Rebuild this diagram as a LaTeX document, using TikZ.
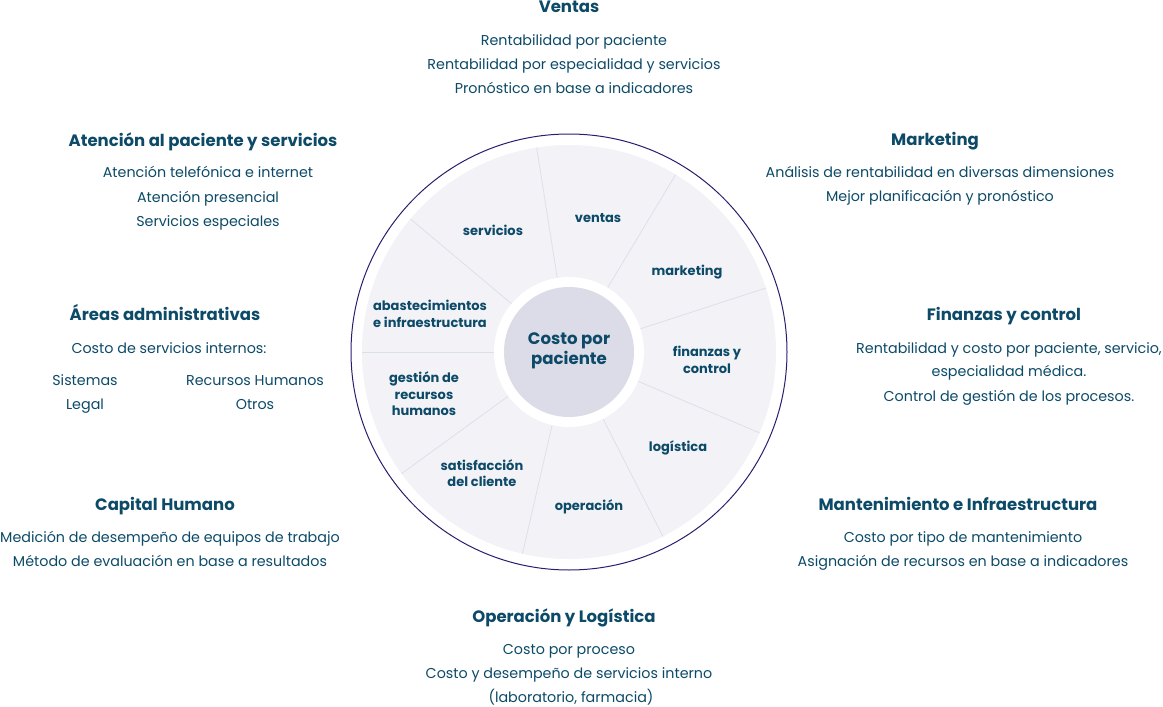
\documentclass[tikz,border=0pt]{standalone}
\usepackage{fontspec}
\setmainfont{Poppins}
\definecolor{inktext}{RGB}{12,74,104}
\definecolor{wheelfill}{RGB}{242,242,247}
\definecolor{hubfill}{RGB}{220,219,232}
\definecolor{rimline}{RGB}{40,30,110}
\definecolor{spokeline}{RGB}{218,224,232}
\tikzset{
  title/.style={inktext,font=\fontsize{16.5}{18}\selectfont\bfseries,text height=12pt,text depth=4pt},
  body/.style={inktext,font=\fontsize{14.3}{16}\selectfont,text height=10.5pt,text depth=3.5pt},
  sector/.style={inktext,font=\fontsize{13}{16.5}\selectfont\bfseries,align=center},
  hub/.style={inktext,font=\fontsize{16.6}{20}\selectfont\bfseries,align=center},
  spoke/.style={spokeline,line width=0.7pt},
}
\begin{document}
\begin{tikzpicture}[x=1pt,y=-1pt]
\useasboundingbox (0,0) rectangle (1163,707);
\coordinate (c) at (569,352);
\draw[rimline,line width=1pt] (c) circle (218pt);
\fill[wheelfill] (c) circle (207pt);
\foreach \a in {99,59,18,-23,-63,-103,-144,180,140}
  \draw[spoke,shift={(c)}] (\a:75pt) -- (\a:207pt);
\fill[white] (c) circle (75pt);
\fill[hubfill] (c) circle (65pt);
\node[hub] (costo) at (569,351) {Costo por\\paciente};
\node[sector] (servicios) at (493,230) {servicios};
\node[sector] (ventas) at (598,218) {ventas};
\node[sector] (marketing) at (687,272) {marketing};
\node[sector] (finanzas) at (707,360) {finanzas y\\control};
\node[sector] (logistica) at (678,448) {logística};
\node[sector] (operacion) at (589,507) {operación};
\node[sector] (satisfaccion) at (482,473) {satisfacción\\del cliente};
\node[sector] (gestion) at (424,394) {gestión de\\recursos\\humanos};
\node[sector] (abastecimientos) at (430,314) {abastecimientos\\e infraestructura};

\node[title] (tventas) at (569,8) {Ventas};
\node[body] (ventasA) at (574,42) {Rentabilidad por paciente};
\node[body] (ventasB) at (574,66) {Rentabilidad por especialidad y servicios};
\node[body] (ventasC) at (574,90) {Pronóstico en base a indicadores};

\node[title] (tatencion) at (203,142) {Atención al paciente y servicios};
\node[body] (atencionA) at (208,174) {Atención telefónica e internet};
\node[body] (atencionB) at (208,199) {Atención presencial};
\node[body] (atencionC) at (208,223) {Servicios especiales};

\node[title] (tareas) at (165,316) {Áreas administrativas};
\node[body] (areasA) at (169,350) {Costo de servicios internos:};
\node[body] (areasB) at (85,382) {Sistemas};
\node[body] (areasC) at (255,382) {Recursos Humanos};
\node[body] (areasD) at (85,406) {Legal};
\node[body] (areasE) at (255,406) {Otros};

\node[title] (tcapital) at (165,506) {Capital Humano};
\node[body] (capitalA) at (170,539) {Medición de desempeño de equipos de trabajo};
\node[body] (capitalB) at (170,563) {Método de evaluación en base a resultados};

\node[title] (toperacion) at (564,618) {Operación y Logística};
\node[body] (operacionA) at (569,651) {Costo por proceso};
\node[body] (operacionB) at (569,675) {Costo y desempeño de servicios interno};
\node[body] (operacionC) at (571,699) {(laboratorio, farmacia)};

\node[title] (tmarketing) at (935,141) {Marketing};
\node[body] (marketingA) at (940,174) {Análisis de rentabilidad en diversas dimensiones};
\node[body] (marketingB) at (940,198) {Mejor planificación y pronóstico};

\node[title] (tfinanzas) at (1004,316) {Finanzas y control};
\node[body] (finanzasA) at (1009,350) {Rentabilidad y costo por paciente, servicio,};
\node[body] (finanzasB) at (1009,373) {especialidad médica.};
\node[body] (finanzasC) at (1009,398) {Control de gestión de los procesos.};

\node[title] (tmantenimiento) at (958,506) {Mantenimiento e Infraestructura};
\node[body] (mantenimientoA) at (963,539) {Costo por tipo de mantenimiento};
\node[body] (mantenimientoB) at (963,563) {Asignación de recursos en base a indicadores};
\end{tikzpicture}
\end{document}
